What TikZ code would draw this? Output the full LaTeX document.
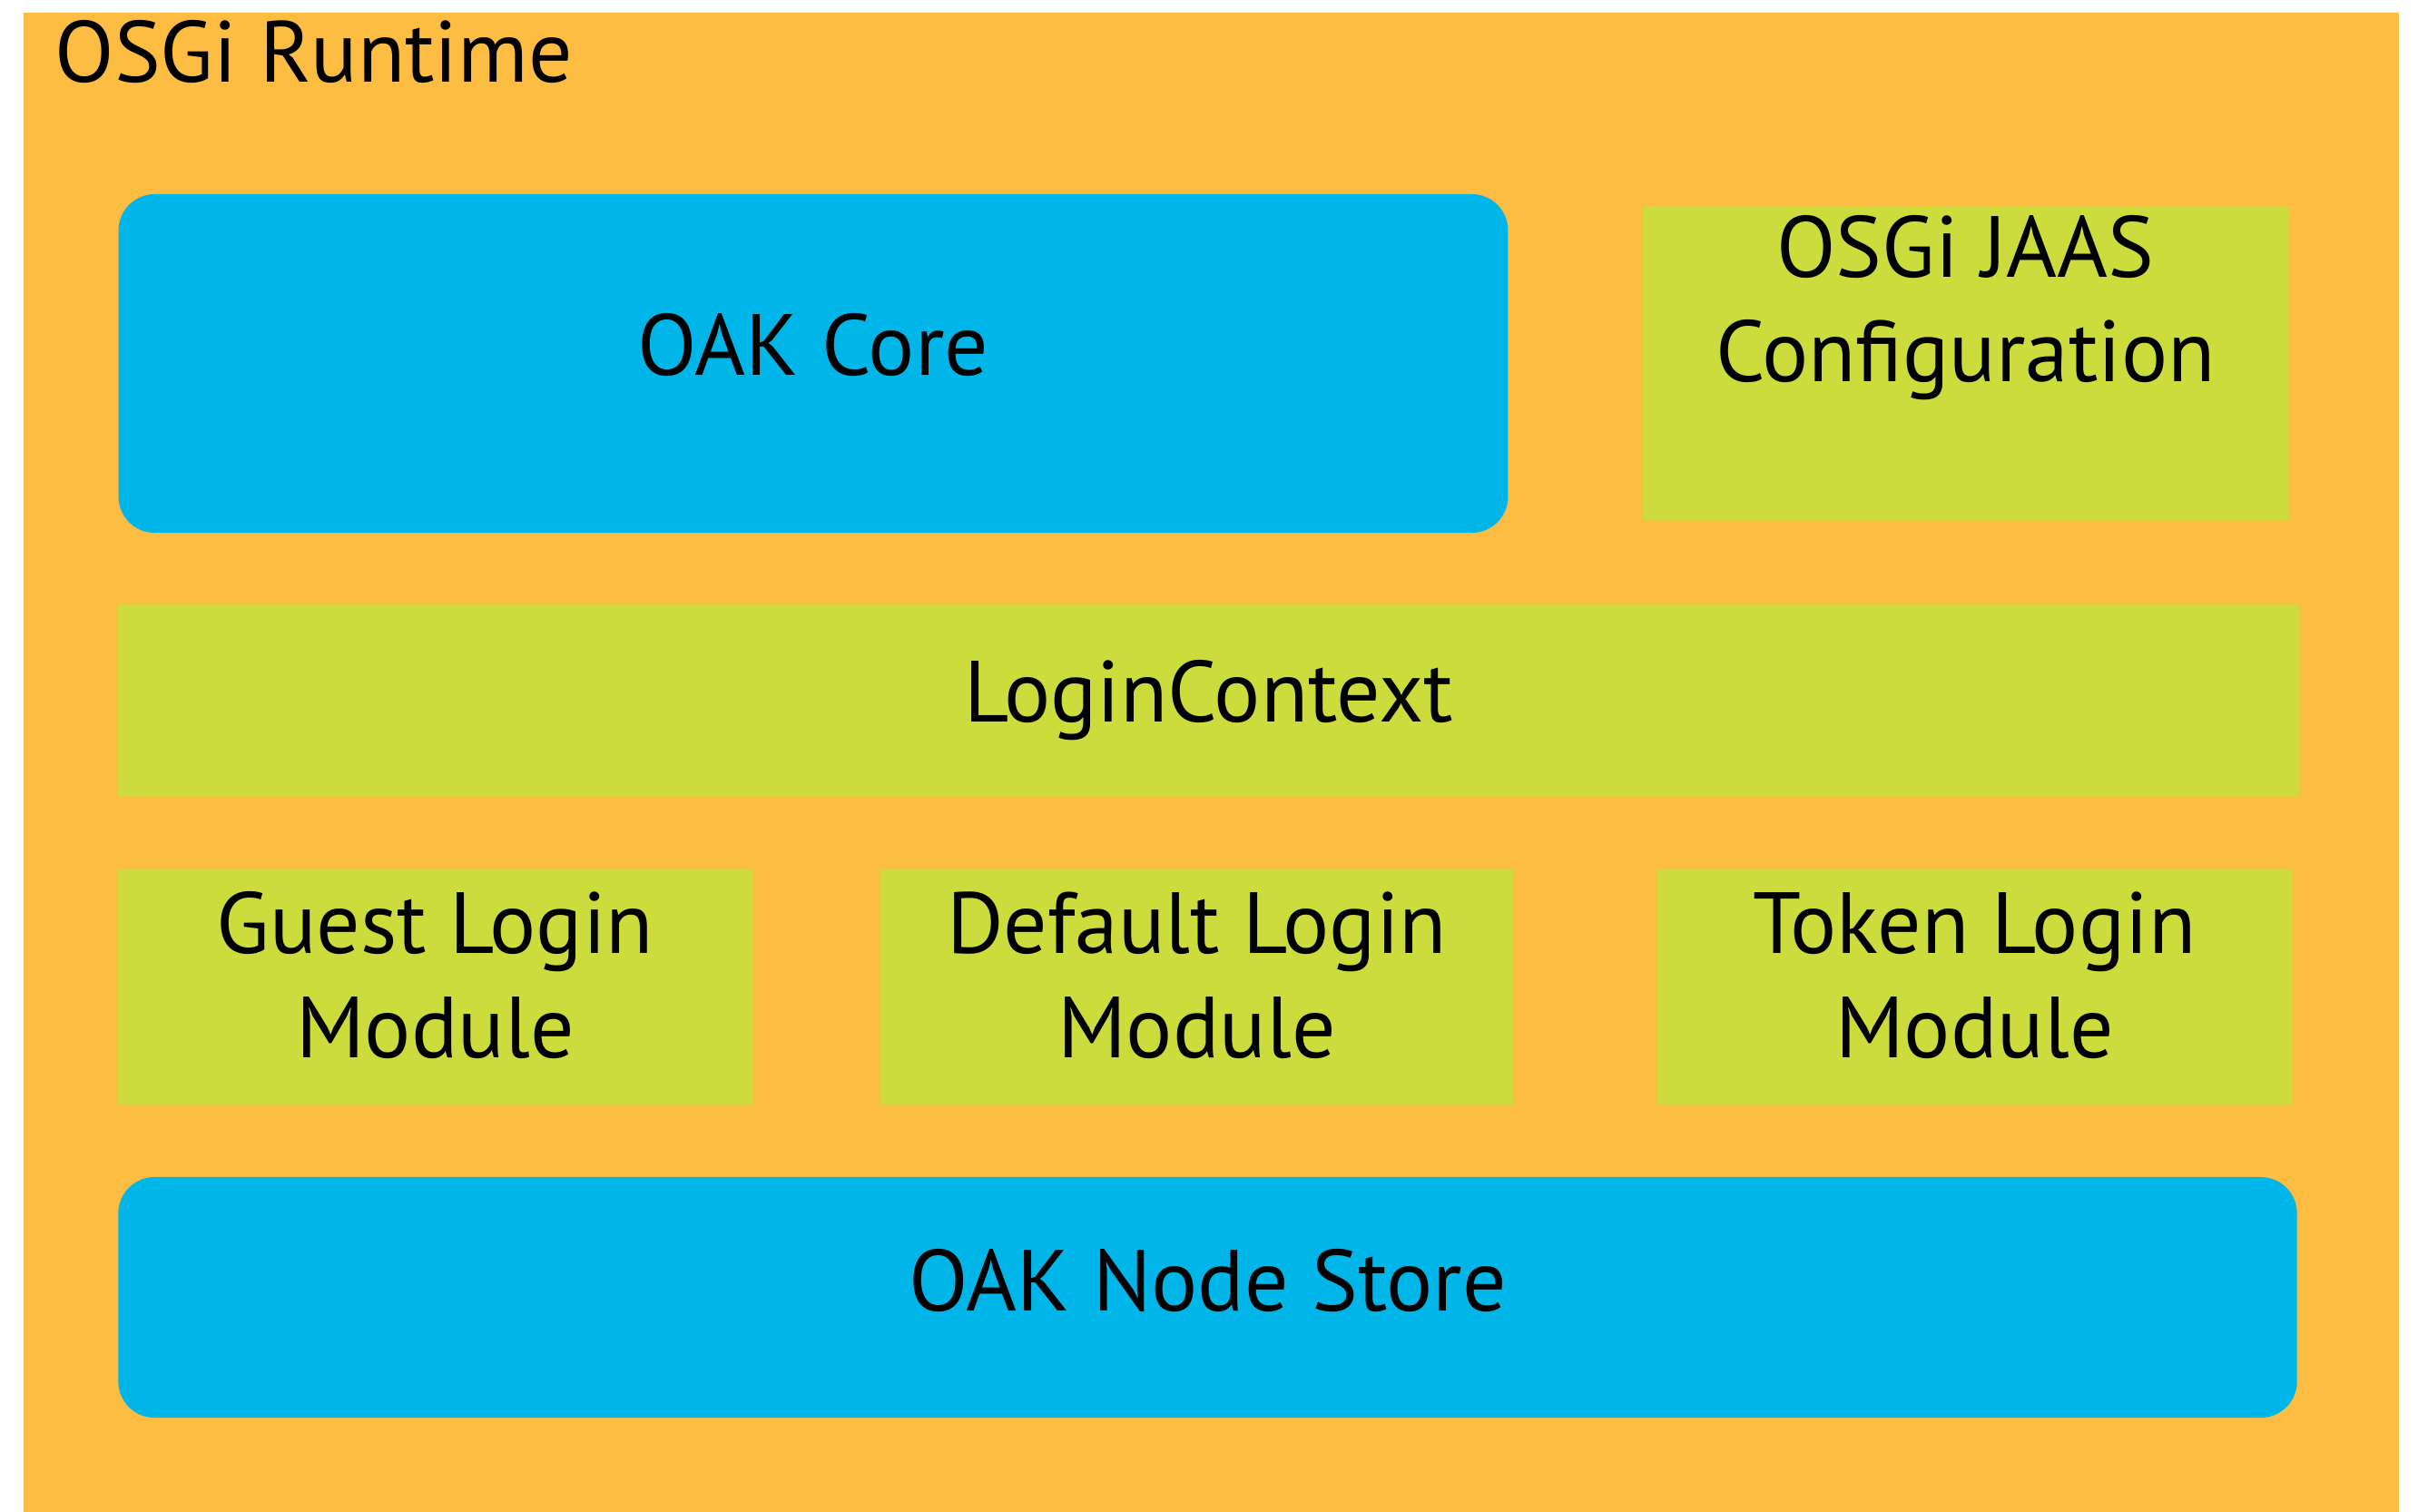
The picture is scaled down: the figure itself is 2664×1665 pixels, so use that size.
\documentclass[tikz,border=0pt]{standalone}
\usepackage{fontspec}
\setmainfont{PT Sans}
\definecolor{runtimeorange}{RGB}{253,188,66}
\definecolor{oakblue}{RGB}{0,181,231}
\definecolor{jaasgreen}{RGB}{204,220,60}
\begin{document}
\begin{tikzpicture}[x=0.01cm, y=-0.01cm,
    box node/.style={rectangle, inner sep=0pt, outer sep=0pt, draw=none},
    blue node/.style={box node, fill=oakblue, rounded corners=0.4cm},
    green node/.style={box node, fill=jaasgreen},
    text node/.style={font=\fontsize{27.2}{32.7}\selectfont, align=center, inner sep=0pt, anchor=base}]

    \useasboundingbox (0,0) rectangle (2664,1665);

    \node[box node, fill=runtimeorange, minimum width=26.15cm, minimum height=16.51cm] at (1334.5,839.5) (runtime) {};
    \node[text node, anchor=base west] at (60,90) (runtime text) {OSGi Runtime};

    \node[blue node, minimum width=15.3cm, minimum height=3.73cm] at (896,400.5) (core) {};
    \node[text node] at (896,413) (core text) {OAK Core};

    \node[green node, minimum width=7.11cm, minimum height=3.46cm] at (2165.5,400) (jaas) {};
    \node[text node] at (2165.5,420) (jaas text) {OSGi JAAS\\Configuration};

    \node[green node, minimum width=24.01cm, minimum height=2.12cm] at (1331.5,772) (login) {};
    \node[text node] at (1331.5,795) (login text) {LoginContext};

    \node[green node, minimum width=6.99cm, minimum height=2.59cm] at (479.5,1087.5) (guest) {};
    \node[text node] at (479.5,1165) (guest text) {Guest Login\\Module};

    \node[green node, minimum width=6.97cm, minimum height=2.59cm] at (1318.5,1087.5) (default) {};
    \node[text node] at (1318.5,1165) (default text) {Default Login\\Module};

    \node[green node, minimum width=6.99cm, minimum height=2.59cm] at (2175.5,1087.5) (token) {};
    \node[text node] at (2175.5,1165) (token text) {Token Login\\Module};

    \node[blue node, minimum width=23.99cm, minimum height=2.65cm] at (1330.5,1429.5) (store) {};
    \node[text node] at (1330.5,1444) (store text) {OAK Node Store};
\end{tikzpicture}
\end{document}
